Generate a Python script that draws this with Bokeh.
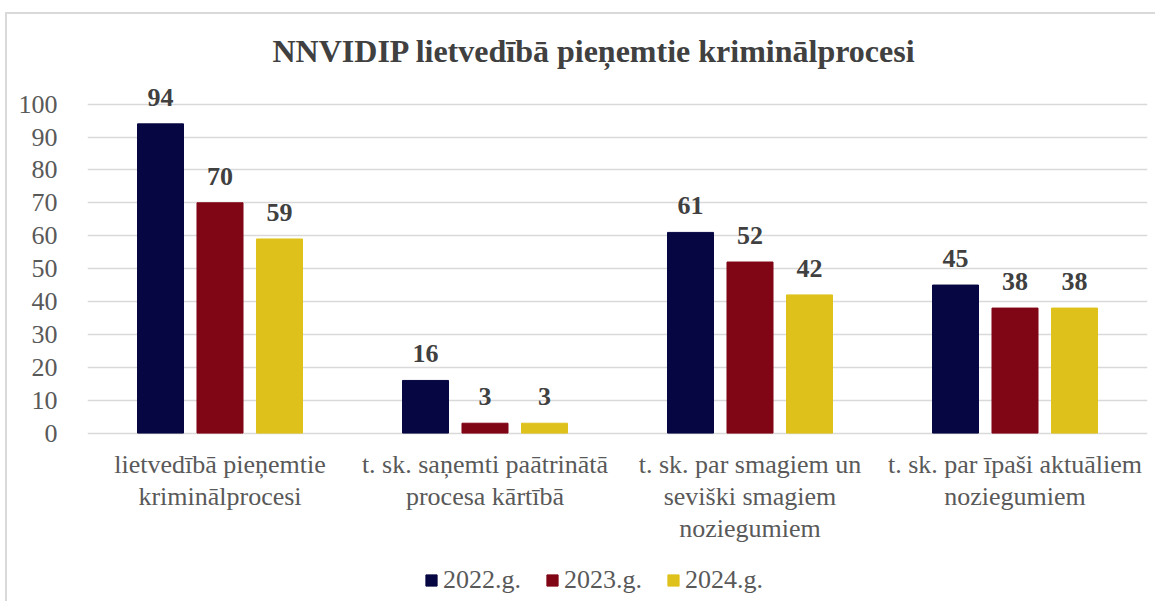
from bokeh.plotting import figure
from bokeh.models import ColumnDataSource, LabelSet, Legend, LegendItem, FixedTicker, Range1d, Title
from bokeh.embed import file_html
from bokeh.resources import INLINE

categories = [
    "lietvedībā pieņemtie\nkriminālprocesi",
    "t. sk. saņemti paātrinātā\nprocesa kārtībā",
    "t. sk. par smagiem un\nseviški smagiem\nnoziegumiem",
    "t. sk. par īpaši aktuāliem\nnoziegumiem",
]
series_names = ["2022.g.", "2023.g.", "2024.g."]
v2022 = [94, 16, 61, 45]
v2023 = [70, 3, 52, 38]
v2024 = [59, 3, 42, 38]
y_ticks = [0, 10, 20, 30, 40, 50, 60, 70, 80, 90, 100]

colors = ["#060642", "#800515", "#DFC11B"]
offsets = [-0.2245, 0.0, 0.2245]
bar_w = 0.1736
FONT = "Liberation Serif"

# page offsets for the outer chart border (top / left lines)
OX, OY = 7, 14

p = figure(width=1157 - OX, height=603 - OY, output_backend="svg", toolbar_location=None,
           x_range=Range1d(0, len(categories)), y_range=Range1d(-51.8, 109),
           x_axis_location=None,
           min_border_left=87 - OX, min_border_right=10, min_border_top=74 - OY, min_border_bottom=0)
p.styles = {"margin-left": "5px", "margin-top": "12px",
            "border-top": "2px solid #D9D9D9", "border-left": "2px solid #D9D9D9"}

p.title = Title(text="NNVIDIP lietvedībā pieņemtie kriminālprocesi", align="left",
                text_font=FONT, text_font_size="32px", text_font_style="bold",
                text_color="#404040", standoff=12, offset=185)

p.outline_line_color = None
p.background_fill_color = "white"
p.border_fill_color = "white"

renderers = []
for vals, name, col, off in zip([v2022, v2023, v2024], series_names, colors, offsets):
    xs = [i + 0.5 + off for i in range(len(categories))]
    src = ColumnDataSource(dict(x=xs, top=vals, label=[str(v) for v in vals]))
    r = p.vbar(x="x", top="top", width=bar_w, bottom=0, source=src,
               fill_color=col, line_color=col)
    renderers.append((name, r))
    p.add_layout(LabelSet(x="x", y="top", text="label", source=src,
                          text_align="center", text_baseline="alphabetic", y_offset=18,
                          text_font=FONT, text_font_size="26px", text_font_style="bold",
                          text_color="#404040"))

# category labels under the bars, one centred line at a time
cat_lines = [c.split("\n") for c in categories]
for j in range(max(len(l) for l in cat_lines)):
    xs = [i + 0.5 for i, l in enumerate(cat_lines) if len(l) > j]
    txt = [l[j] for l in cat_lines if len(l) > j]
    src = ColumnDataSource(dict(x=xs, y=[0] * len(xs), label=txt))
    p.add_layout(LabelSet(x="x", y="y", text="label", source=src,
                          text_align="center", text_baseline="middle", y_offset=-31 - 32 * j,
                          text_font=FONT, text_font_size="26px", text_color="#595959"))

p.yaxis.ticker = FixedTicker(ticks=y_ticks)
p.yaxis.axis_line_color = None
p.yaxis.major_tick_line_color = None
p.yaxis.minor_tick_line_color = None
p.yaxis.major_label_text_font = FONT
p.yaxis.major_label_text_font_size = "26px"
p.yaxis.major_label_text_color = "#595959"
p.yaxis.major_label_standoff = 24

p.xgrid.grid_line_color = None
p.ygrid.grid_line_color = "#D9D9D9"
p.ygrid.grid_line_width = 1.5

legend = Legend(items=[LegendItem(label=n, renderers=[r]) for n, r in renderers],
                orientation="horizontal", location=(337, 8),
                glyph_width=14, glyph_height=14, label_standoff=5, spacing=24,
                padding=0, margin=0, border_line_color=None, background_fill_alpha=0,
                label_text_font=FONT, label_text_font_size="26px", label_text_color="#595959")
p.add_layout(legend, "center")

open("out.html", "w").write(file_html(p, INLINE))
